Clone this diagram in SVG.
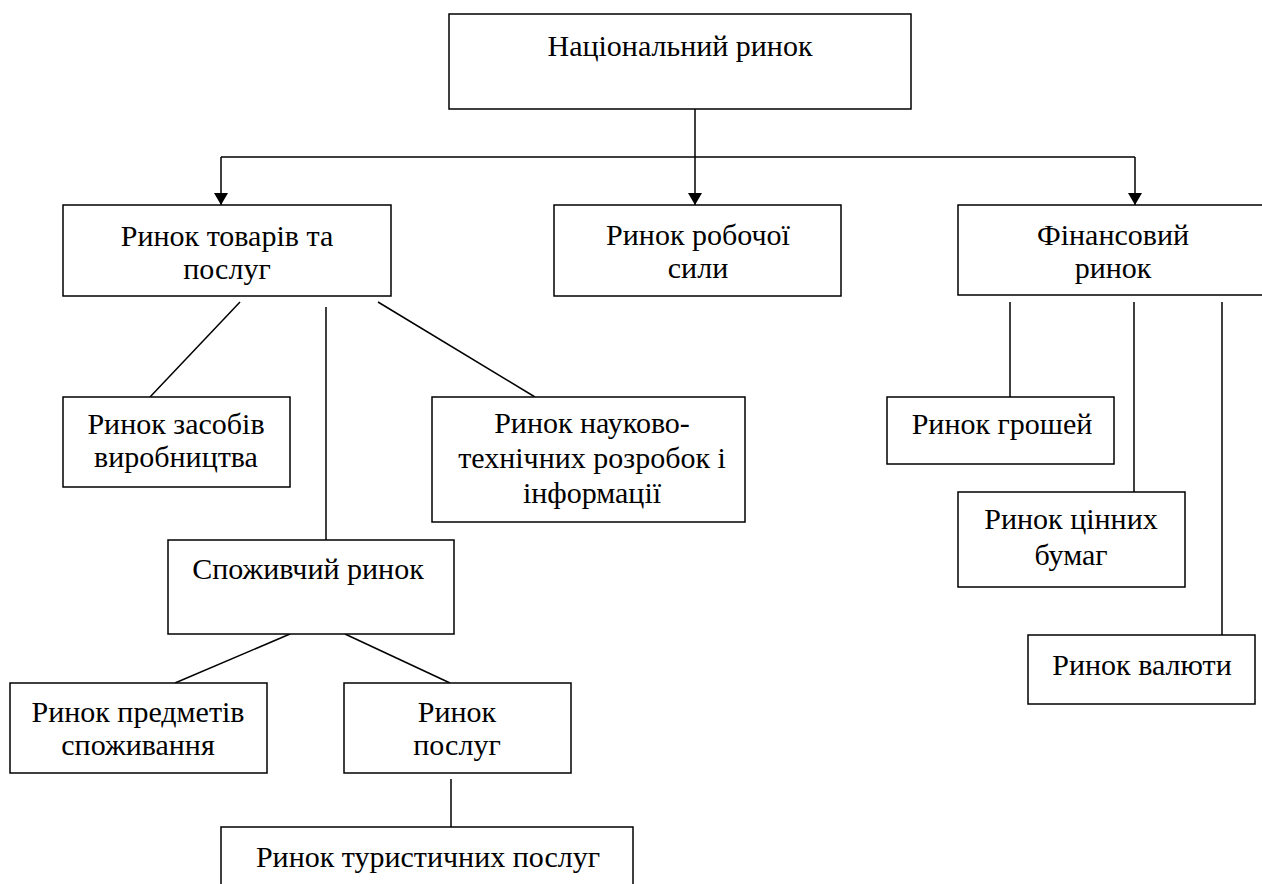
<svg xmlns="http://www.w3.org/2000/svg" width="1262" height="884" viewBox="0 0 1262 884">
<style>
.box{fill:#fff;stroke:#000;stroke-width:1.5}
.t{font-family:'Liberation Serif','Times New Roman',serif;font-size:30px;fill:#000;text-anchor:middle}
.c{stroke:#000;stroke-width:1.5;fill:none}
</style>
<defs>
<marker id="arr" viewBox="0 0 12 14" refX="12" refY="7" markerWidth="12" markerHeight="14" orient="auto" markerUnits="userSpaceOnUse"><path d="M0,0 L12,7 L0,14 z" fill="#000"/></marker>
</defs>
<rect width="1262" height="884" fill="#fff"/>
<g id="connectors">
<line class="c" x1="695" y1="109" x2="695" y2="205" marker-end="url(#arr)"/>
<line class="c" x1="221" y1="157" x2="1135" y2="157"/>
<line class="c" x1="221" y1="157" x2="221" y2="205" marker-end="url(#arr)"/>
<line class="c" x1="1135" y1="157" x2="1135" y2="205" marker-end="url(#arr)"/>
<line class="c" x1="240" y1="302" x2="150" y2="397"/>
<line class="c" x1="326" y1="307" x2="326" y2="540"/>
<line class="c" x1="378" y1="302" x2="535" y2="397"/>
<line class="c" x1="290" y1="634" x2="175" y2="683"/>
<line class="c" x1="345" y1="634" x2="450" y2="683"/>
<line class="c" x1="451" y1="779" x2="451" y2="827"/>
<line class="c" x1="1010" y1="302" x2="1010" y2="397"/>
<line class="c" x1="1134" y1="302" x2="1134" y2="492"/>
<line class="c" x1="1222" y1="302" x2="1222" y2="635"/>
</g>
<g id="n-national"><rect class="box" x="449" y="14" width="462" height="95"/><text class="t" x="680" y="56">Національний ринок</text></g>
<g id="n-goods"><rect class="box" x="63" y="205" width="328" height="91"/><text class="t" x="227" y="246">Ринок товарів та</text><text class="t" x="227" y="279">послуг</text></g>
<g id="n-labour"><rect class="box" x="554" y="205" width="287" height="91"/><text class="t" x="698" y="245">Ринок робочої</text><text class="t" x="698" y="278">сили</text></g>
<g id="n-finance"><rect class="box" x="958" y="205" width="320" height="90"/><text class="t" x="1113" y="245">Фінансовий</text><text class="t" x="1113" y="278">ринок</text></g>
<g id="n-means"><rect class="box" x="63" y="397" width="227" height="90"/><text class="t" x="176" y="434">Ринок засобів</text><text class="t" x="176" y="467">виробництва</text></g>
<g id="n-science"><rect class="box" x="432" y="397" width="313" height="125"/><text class="t" x="592" y="433">Ринок науково-</text><text class="t" x="592" y="468">технічних розробок і</text><text class="t" x="592" y="503">інформації</text></g>
<g id="n-consumer"><rect class="box" x="168" y="540" width="286" height="94"/><text class="t" x="308" y="579">Споживчий ринок</text></g>
<g id="n-items"><rect class="box" x="10" y="683" width="257" height="90"/><text class="t" x="138" y="722">Ринок предметів</text><text class="t" x="138" y="755">споживання</text></g>
<g id="n-services"><rect class="box" x="344" y="683" width="227" height="90"/><text class="t" x="457" y="722">Ринок</text><text class="t" x="457" y="755">послуг</text></g>
<g id="n-tourism"><rect class="box" x="221" y="827" width="412" height="70"/><text class="t" x="428" y="867">Ринок туристичних послуг</text></g>
<g id="n-money"><rect class="box" x="887" y="397" width="227" height="67"/><text class="t" x="1002" y="434">Ринок грошей</text></g>
<g id="n-securities"><rect class="box" x="958" y="492" width="227" height="95"/><text class="t" x="1071" y="529">Ринок цінних</text><text class="t" x="1071" y="565">бумаг</text></g>
<g id="n-currency"><rect class="box" x="1028" y="635" width="227" height="69"/><text class="t" x="1142" y="675">Ринок валюти</text></g>
</svg>
